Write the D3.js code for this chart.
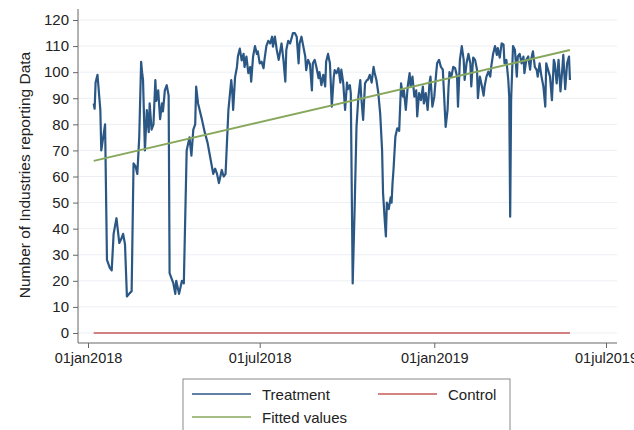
<!DOCTYPE html>
<html>
<head>
<meta charset="utf-8">
<script src="https://cdn.jsdelivr.net/npm/d3@7"></script>
<style>
  html, body { margin: 0; padding: 0; background: #fff; }
  svg { display: block; font-family: "Liberation Sans", Arial, Helvetica, sans-serif; }
</style>
</head>
<body>
<svg id="chart" width="634" height="430"></svg>
<script>
// ---- data (days since 01jan2018) ----
const treatmentDays = [6,7,8,10,13,14,16,18,20,23,25,27,30,33,35,37,39,41,44,46,48,50,52,54,56,57,58,60,62,64,65,67,69,71,72,74,76,78,79,81,83,85,86,90,92,93,96,99,101,104,107,109,111,113,114,116,118,120,123,126,129,130,132,134,136,138,141,143,145,148,151,152,153,155,157,158,160,162,164,165,167,169,171,172,174,176,178,179,181,183,185,186,188,190,192,194,195,197,199,201,204,206,208,209,211,213,215,216,218,220,222,223,225,227,229,230,232,234,236,237,239,241,243,244,246,248,250,251,253,255,257,259,260,262,264,266,267,269,271,273,274,276,277,279,281,283,285,287,288,290,292,294,295,297,299,301,302,304,306,308,310,311,313,314,315,317,319,320,321,322,324,326,328,330,332,333,335,337,339,340,342,344,346,347,349,351,353,354,356,358,360,361,363,365,367,368,370,372,374,375,377,379,380,381,383,385,387,389,390,392,394,396,397,399,401,403,404,406,408,410,411,413,415,417,418,420,422,424,425,427,429,431,432,434,436,438,439,441,443,444,445,446,448,450,452,453,455,457,459,460,462,464,466,467,469,471,473,474,476,478,480,482,483,485,487,489,491,492,494,496,498,500,501,503,505,507,508];
const treatmentValues = [88,86,96,99,85.5,70,75,80,28,25,24,38,44,34.5,36,38,34,14,15.3,16,65,64,61,75,104,100,97,70,85.5,77,88,78,80,97,89,93,82,88,85,93,95,91,23,19,15,20,15,20,19,70,75,68,78,80,94.5,88,85,82,77,73,67,65,61,63,61,57.5,62.5,60,61,85.5,97,93,85.5,98,102,106,109,104.5,107,102,106,99.6,102,96.4,106,110,107,108,103.4,104,101.5,104.7,110,112,111,113.6,109.8,113.6,108.5,104.7,111,104.7,96.4,108.5,112,111,113.6,115,115,113.6,103.4,111,113.6,109.8,106,100.8,104.7,103,93,103.4,104.7,101.5,97.7,100,95,99,94.5,104,107,103.4,86.8,98,100.8,99.6,101.5,96,101,96,85.5,96,93.5,95,92,19,47,79,90.6,97,90.6,81.7,95.7,97,97,99,96,102,100,97,92,84,70,53.6,42,37,50,47.5,52,50,57.5,62.5,75.3,78.5,77.5,95.7,90.6,93,85.5,94.5,99.6,94.5,98.3,90.6,93,83,92,89.3,94.5,88,92,85.5,96,98.3,86.8,90.6,99.6,103.4,104.7,102,101,93.5,79,85.5,94,100,98.3,102,101.5,98.3,86.8,104.7,110,104.7,97,103.4,107,103.4,94.5,105.6,104.7,101,90,98.3,95,91,94.5,98.3,100.2,98.3,102,107,110,106.6,109.2,105.6,111,110.6,103.4,104.7,97,90.6,44.6,89.3,110,108.5,98.3,106,107,103.4,106,99.6,104.7,106,101,104.7,108,102,100.8,98.3,103.4,98.3,94.5,86.8,103.4,100.8,98.3,89.3,104.7,103.4,95.7,104.7,92.6,101.5,106.6,93.5,103.4,106,97];
const controlDays = [6, 508];
const controlValues = [0, 0];
const fittedDays = [6, 508];
const fittedValues = [66, 108.5];

const yTicks = [0,10,20,30,40,50,60,70,80,90,100,110,120];
const xTickDates = ["2018-01-01","2018-07-01","2019-01-01","2019-07-01"];
const xTickLabels = ["01jan2018","01jul2018","01jan2019","01jul2019"];
const seriesNames = ["Treatment","Control","Fitted values"];
const seriesColors = ["#2b5784","#c65a5a","#87a85c"];
const yTitle = "Number of Industries reporting Data";

// ---- setup ----
const svg = d3.select("#chart");
const base = new Date(2018, 0, 1);
const toDate = d => d3.timeDay.offset(base, d);
const parse = d3.timeParse("%Y-%m-%d");

const x = d3.scaleTime()
  .domain([parse("2018-01-01"), parse("2019-07-01")])
  .range([88, 606]);
const y = d3.scaleLinear().domain([0, 120]).range([333, 20]);

const axisLeftX = 78, axisBottomY = 343, plotRight = 617;

// gridlines
svg.append("g").selectAll("line").data(yTicks).join("line")
  .attr("x1", axisLeftX).attr("x2", plotRight)
  .attr("y1", d => y(d)).attr("y2", d => y(d))
  .attr("stroke", "#eceff3").attr("stroke-width", 1);

// y axis
const yAxis = svg.append("g").attr("transform", `translate(${axisLeftX},0)`)
  .call(d3.axisLeft(y).tickValues(yTicks).tickSize(5).tickPadding(4));
yAxis.select(".domain").attr("d", `M0,9V${axisBottomY}`).attr("stroke", "#666");
yAxis.selectAll(".tick line").attr("stroke", "#666");
yAxis.selectAll(".tick text").attr("font-size", 15).attr("fill", "#222")
  .attr("font-family", "Liberation Sans, Arial, sans-serif");

// x axis
const xAxis = svg.append("g").attr("transform", `translate(0,${axisBottomY})`)
  .call(d3.axisBottom(x).tickValues(xTickDates.map(parse))
    .tickFormat((d, i) => xTickLabels[i]).tickSize(5).tickPadding(5));
xAxis.select(".domain").attr("d", `M${axisLeftX},0H${plotRight}`).attr("stroke", "#666");
xAxis.selectAll(".tick line").attr("stroke", "#666");
xAxis.selectAll(".tick text").attr("font-size", 14.5).attr("fill", "#222")
  .attr("font-family", "Liberation Sans, Arial, sans-serif");

// y title
svg.append("text")
  .attr("transform", `translate(30,175) rotate(-90)`)
  .attr("text-anchor", "middle")
  .attr("font-size", 15.5).attr("fill", "#222")
  .text(yTitle);

// lines
const line = d3.line().x(d => x(toDate(d[0]))).y(d => y(d[1]));
const control = controlDays.map((d, i) => [d, controlValues[i]]);
const treatment = treatmentDays.map((d, i) => [d, treatmentValues[i]]);
const fitted = fittedDays.map((d, i) => [d, fittedValues[i]]);

svg.append("path").datum(control).attr("d", line)
  .attr("fill", "none").attr("stroke", seriesColors[1]).attr("stroke-width", 1.6);
svg.append("path").datum(treatment).attr("d", line)
  .attr("fill", "none").attr("stroke", seriesColors[0]).attr("stroke-width", 2.2)
  .attr("stroke-linejoin", "round");
svg.append("path").datum(fitted).attr("d", line)
  .attr("fill", "none").attr("stroke", seriesColors[2]).attr("stroke-width", 2);

// legend
const lg = svg.append("g");
lg.append("rect").attr("x", 183).attr("y", 379).attr("width", 327).attr("height", 70)
  .attr("fill", "#fff").attr("stroke", "#8a8a8a").attr("stroke-width", 1);
const legendItems = [
  {name: seriesNames[0], color: seriesColors[0], x: 192, y: 394},
  {name: seriesNames[1], color: seriesColors[1], x: 378, y: 394},
  {name: seriesNames[2], color: seriesColors[2], x: 192, y: 417}
];
legendItems.forEach(it => {
  lg.append("line").attr("x1", it.x).attr("x2", it.x + 59)
    .attr("y1", it.y).attr("y2", it.y)
    .attr("stroke", it.color).attr("stroke-width", 1.6);
  lg.append("text").attr("x", it.x + 70).attr("y", it.y + 5.5)
    .attr("font-size", 15).attr("fill", "#222").text(it.name);
});
</script>
</body>
</html>
